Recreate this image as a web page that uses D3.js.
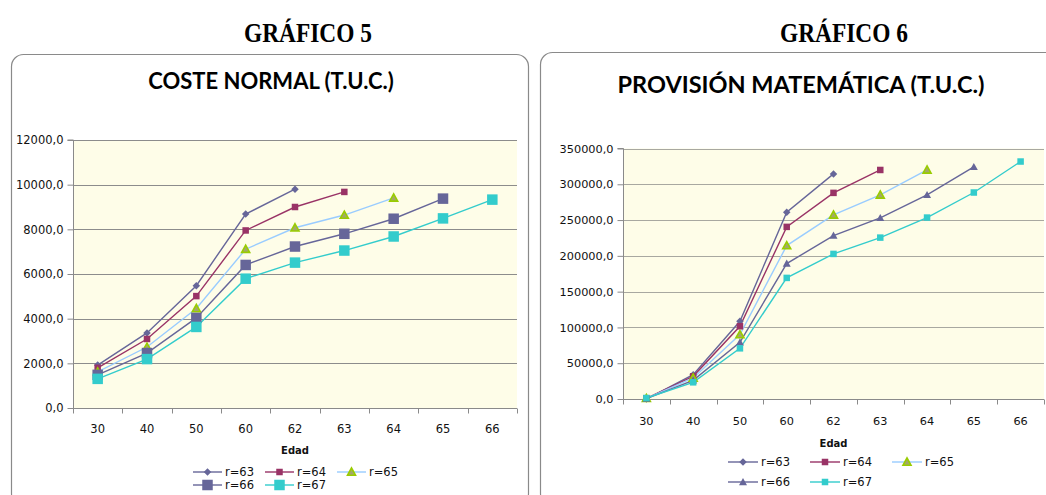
<!DOCTYPE html>
<html><head><meta charset="utf-8">
<script src="https://cdn.jsdelivr.net/npm/d3@7"></script>
<style>
html,body{margin:0;padding:0;background:#fff;}
svg{display:block;}
</style></head>
<body>
<svg id="c" width="1046" height="495"></svg>
<script>
// ---- DATA ----
const categories = ["30","40","50","60","62","63","64","65","66"];
const seriesNames = ["r=63","r=64","r=65","r=66","r=67"];

// Gráfico 5: Coste normal (T.U.C.)
const costeR63 = [1920, 3360, 5475, 8685, 9795];
const costeR64 = [1800, 3090, 5010, 7950, 9000, 9675];
const costeR65 = [1620, 2730, 4455, 7110, 8070, 8640, 9405];
const costeR66 = [1485, 2460, 4035, 6405, 7230, 7800, 8475, 9375];
const costeR67 = [1305, 2190, 3630, 5790, 6510, 7050, 7680, 8490, 9330];
const costeTicks = [0, 2000, 4000, 6000, 8000, 10000, 12000];

// Gráfico 6: Provisión matemática (T.U.C.)
const provR63 = [0, 34000, 108600, 261000, 314500];
const provR64 = [1000, 31700, 101600, 240500, 288000, 320000];
const provR65 = [1000, 29400, 90000, 214400, 257200, 285200, 320000];
const provR66 = [500, 26100, 79200, 189200, 228300, 253000, 285200, 324300];
const provR67 = [1400, 23300, 70800, 169200, 202700, 225500, 253500, 288500, 331800];
const provTicks = [0, 50000, 100000, 150000, 200000, 250000, 300000, 350000];

// ---- STYLE ----
const lineColors = ["#666699", "#993366", "#99CCFF", "#666699", "#33CCCC"];
const fmt = v => d3.format(".1f")(v).replace(".", ",");

const svg = d3.select("#c");

function roundedBox(x0, y0, x1, y1) {
  svg.append("rect").attr("x", x0 + 0.5).attr("y", y0 + 0.5)
    .attr("width", x1 - x0).attr("height", y1 - y0)
    .attr("rx", 12).attr("ry", 12)
    .attr("fill", "#fff").attr("stroke", "#8a8a8a").attr("stroke-width", 1.2);
}

function marker(g, type, cx, cy, size, color) {
  if (type === "diamond") {
    const h = size / 2;
    g.append("path").attr("d", `M${cx},${cy - h}L${cx + h},${cy}L${cx},${cy + h}L${cx - h},${cy}Z`)
      .attr("fill", color);
  } else if (type === "square") {
    g.append("rect").attr("x", cx - size / 2).attr("y", cy - size / 2)
      .attr("width", size).attr("height", size).attr("fill", color);
  } else if (type === "tri65") {
    const h = size / 2;
    g.append("path").attr("d", `M${cx},${cy - h}L${cx + h},${cy + h * 0.8}L${cx - h},${cy + h * 0.8}Z`)
      .attr("fill", "#a3a86a").attr("stroke", "#99CC00").attr("stroke-width", 1.6);
  } else if (type === "triangle") {
    const h = size / 2;
    g.append("path").attr("d", `M${cx},${cy - h}L${cx + h},${cy + h * 0.8}L${cx - h},${cy + h * 0.8}Z`)
      .attr("fill", color);
  }
}

function drawChart(cfg) {
  const g = svg.append("g");
  const x = d3.scaleBand().domain(categories).range([cfg.left, cfg.right]).padding(0);
  const y = d3.scaleLinear().domain([0, cfg.ticks[cfg.ticks.length - 1]]).range([cfg.bottom, cfg.top]);

  // plot background
  g.append("rect").attr("x", cfg.left).attr("y", cfg.top)
    .attr("width", cfg.right - cfg.left).attr("height", cfg.bottom - cfg.top)
    .attr("fill", "#FEFDE8");

  // gridlines
  g.selectAll(".grid").data(cfg.ticks.slice(1)).enter().append("line")
    .attr("x1", cfg.left).attr("x2", cfg.right)
    .attr("y1", d => Math.round(y(d)) + 0.5).attr("y2", d => Math.round(y(d)) + 0.5)
    .attr("stroke", cfg.gridColor).attr("stroke-width", 1.2);

  // y axis
  const yAxis = d3.axisLeft(y).tickValues(cfg.ticks).tickSize(6).tickPadding(4).tickFormat(fmt);
  const ya = g.append("g").attr("transform", `translate(${cfg.left + 0.5},0)`).call(yAxis);
  ya.select(".domain").attr("stroke", "#8a8a8a").attr("d", `M-6,${cfg.top}H0V${cfg.bottom}`);
  ya.selectAll(".tick line").attr("stroke", "#8a8a8a");
  ya.selectAll("text").attr("font-family", "DejaVu Sans").attr("font-size", cfg.tickFont).attr("fill", "#111");

  // x axis
  const xa = g.append("g").attr("transform", `translate(0,${Math.round(cfg.bottom) + 0.5})`);
  xa.append("line").attr("x1", cfg.left).attr("x2", cfg.right).attr("stroke", "#8a8a8a");
  const bounds = categories.map(c => x(c)).concat([cfg.right]);
  xa.selectAll(".xt").data(bounds).enter().append("line")
    .attr("x1", d => Math.round(d) + 0.5).attr("x2", d => Math.round(d) + 0.5)
    .attr("y1", 0).attr("y2", 5).attr("stroke", "#8a8a8a");
  g.selectAll(".xl").data(categories).enter().append("text")
    .attr("x", d => x(d) + x.bandwidth() / 2).attr("y", cfg.xLabelY)
    .attr("text-anchor", "middle").attr("font-family", "DejaVu Sans")
    .attr("font-size", cfg.tickFont).attr("fill", "#111").text(d => d);

  // axis title
  g.append("text").attr("x", (cfg.left + cfg.right) / 2).attr("y", cfg.edadY)
    .attr("text-anchor", "middle").attr("font-family", "DejaVu Sans").attr("font-weight", "bold")
    .attr("font-size", 10).attr("fill", "#111").text("Edad");

  // series
  const line = d3.line().x((d, i) => x(categories[i]) + x.bandwidth() / 2).y(d => y(d));
  cfg.series.forEach((vals, si) => {
    g.append("path").datum(vals).attr("d", line)
      .attr("fill", "none").attr("stroke", lineColors[si]).attr("stroke-width", 1.4);
  });
  cfg.series.forEach((vals, si) => {
    const m = cfg.markers[si];
    vals.forEach((v, i) => {
      marker(g, m.type, x(categories[i]) + x.bandwidth() / 2, y(v), m.size, m.color);
    });
  });

  // chart title
  g.append("text").attr("x", cfg.titleX).attr("y", cfg.titleY).attr("text-anchor", "middle")
    .attr("font-family", "Lato").attr("font-weight", "bold").attr("font-size", cfg.titleFont)
    .attr("fill", "#000").text(cfg.title);

  // legend
  cfg.legend.forEach((it, k) => {
    const si = k;
    const lx = it[0], ly = it[1];
    g.append("line").attr("x1", lx).attr("x2", lx + cfg.legLine).attr("y1", ly).attr("y2", ly)
      .attr("stroke", lineColors[si]).attr("stroke-width", 1.4);
    const m = cfg.markers[si];
    marker(g, m.type, lx + cfg.legLine / 2, ly, m.size, m.color);
    g.append("text").attr("x", lx + cfg.legLine + 3).attr("y", ly + 4)
      .attr("font-family", "DejaVu Sans").attr("font-size", 11.5).attr("fill", "#111")
      .text(seriesNames[si]);
  });
}

// Outer titles
svg.append("text").attr("x", 308).attr("y", 42).attr("text-anchor", "middle")
  .attr("font-family", "Liberation Serif").attr("font-weight", "bold").attr("font-size", 28)
  .attr("textLength", 128).attr("lengthAdjust", "spacingAndGlyphs")
  .text("GRÁFICO 5");
svg.append("text").attr("x", 844).attr("y", 42).attr("text-anchor", "middle")
  .attr("font-family", "Liberation Serif").attr("font-weight", "bold").attr("font-size", 28)
  .attr("textLength", 128).attr("lengthAdjust", "spacingAndGlyphs")
  .text("GRÁFICO 6");

roundedBox(11, 54, 528, 505);
roundedBox(540, 52, 1070, 505);

drawChart({
  left: 73, right: 517, top: 140, bottom: 408,
  ticks: costeTicks, gridColor: "#8c8c8c", tickFont: 11.5,
  xLabelY: 433, edadY: 454,
  title: "COSTE NORMAL (T.U.C.)", titleX: 271, titleY: 89, titleFont: 22,
  series: [costeR63, costeR64, costeR65, costeR66, costeR67],
  markers: [
    { type: "diamond", size: 7.5, color: "#666699" },
    { type: "square", size: 6.5, color: "#993366" },
    { type: "tri65", size: 8, color: "#99CC00" },
    { type: "square", size: 10.5, color: "#666699" },
    { type: "square", size: 10.5, color: "#33CCCC" }
  ],
  legLine: 29,
  legend: [[193, 472], [265, 472], [337, 472], [193, 485], [265, 485]]
});

drawChart({
  left: 623, right: 1044, top: 148.5, bottom: 399,
  ticks: provTicks, gridColor: "#a8a8a0", tickFont: 11.3,
  xLabelY: 425, edadY: 447,
  title: "PROVISIÓN MATEMÁTICA (T.U.C.)", titleX: 801, titleY: 93, titleFont: 23.5,
  series: [provR63, provR64, provR65, provR66, provR67],
  markers: [
    { type: "diamond", size: 7.5, color: "#666699" },
    { type: "square", size: 6.5, color: "#993366" },
    { type: "tri65", size: 8, color: "#99CC00" },
    { type: "triangle", size: 8, color: "#666699" },
    { type: "square", size: 6.5, color: "#33CCCC" }
  ],
  legLine: 30,
  legend: [[728, 462], [810, 462], [892, 462], [728, 482], [810, 482]]
});
</script>
</body></html>
